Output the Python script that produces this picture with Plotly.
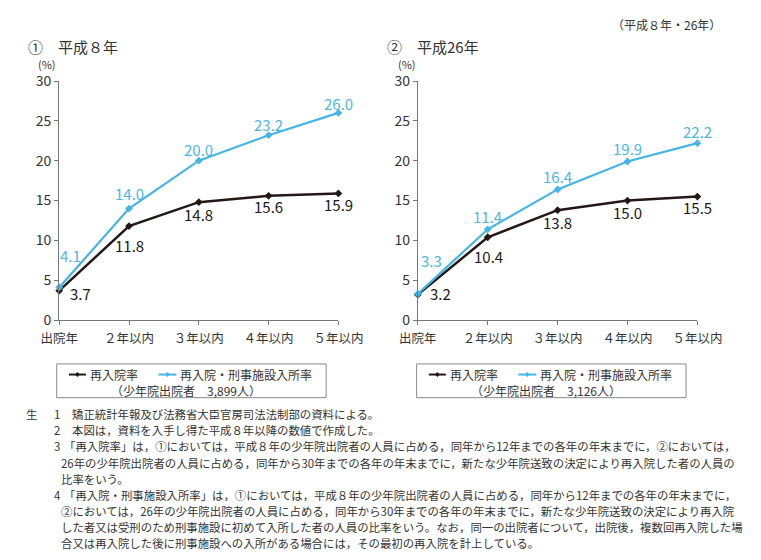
import plotly.graph_objects as go

# ---------------- data ----------------
categories = ["出院年", "２年以内", "３年以内", "４年以内", "５年以内"]
h8_reentry = [3.7, 11.8, 14.8, 15.6, 15.9]
h8_reentry_prison = [4.1, 14.0, 20.0, 23.2, 26.0]
h26_reentry = [3.2, 10.4, 13.8, 15.0, 15.5]
h26_reentry_prison = [3.3, 11.4, 16.4, 19.9, 22.2]
y_ticks = [0, 5, 10, 15, 20, 25, 30]
panel_titles = ["①　平成８年", "②　平成26年"]
legend_names = ["再入院率", "再入院・刑事施設入所率"]
legend_counts = ["（少年院出院者　3,899人）", "（少年院出院者　3,126人）"]
top_note = "（平成８年・26年）"
footnotes = [
    ("生", "1", "矯正統計年報及び法務省大臣官房司法法制部の資料による。"),
    ("", "2", "本図は，資料を入手し得た平成８年以降の数値で作成した。"),
    ("", "3", "「再入院率」は，①においては，平成８年の少年院出院者の人員に占める，同年から12年までの各年の年末までに，②においては，"),
    ("", "", "26年の少年院出院者の人員に占める，同年から30年までの各年の年末までに，新たな少年院送致の決定により再入院した者の人員の"),
    ("", "", "比率をいう。"),
    ("", "4", "「再入院・刑事施設入所率」は，①においては，平成８年の少年院出院者の人員に占める，同年から12年までの各年の年末までに，"),
    ("", "", "②においては，26年の少年院出院者の人員に占める，同年から30年までの各年の年末までに，新たな少年院送致の決定により再入院"),
    ("", "", "した者又は受刑のため刑事施設に初めて入所した者の人員の比率をいう。なお，同一の出院者について，出院後，複数回再入院した場"),
    ("", "", "合又は再入院した後に刑事施設への入所がある場合には，その最初の再入院を計上している。"),
]

# ---------------- styles ----------------
W, H = 761, 560
FONT = "Noto Sans CJK JP"
BLACK = "#231815"
BLUE = "#45b5e6"
BLUE_TXT = "#4cb6e4"
AXIS = "#777777"
TXT = "#333333"

def px(x):
    return x / W

def py(y):
    return 1 - y / H

# label offsets in pixels (dx right, dy down) per series / index
black_off_l = [(21, 3), (0, 19), (0, 12), (0, 11), (0, 11)]
blue_off_l = [(11, -32), (0, -15), (0, -11), (0, -11), (0, -9)]
black_off_r = [(23, -1), (1, 19), (0, 12.5), (0, 12), (0, 11)]
blue_off_r = [(14, -33), (0, -13), (0, -13), (0, -13), (0, -12)]

panels = [
    dict(xa="x", ya="y", black=h8_reentry, blue=h8_reentry_prison,
         boff=black_off_l, uoff=blue_off_l),
    dict(xa="x2", ya="y2", black=h26_reentry, blue=h26_reentry_prison,
         boff=black_off_r, uoff=blue_off_r),
]

fig = go.Figure()
annotations = []
shapes = []

y_top_px, y_bot_px = 72.6, 320.6

for p in panels:
    for vals, color, width in ((p["black"], BLACK, 2.5), (p["blue"], BLUE, 2.2)):
        fig.add_trace(go.Scatter(
            x=categories, y=vals, mode="lines+markers",
            line=dict(color=color, width=width),
            marker=dict(symbol="diamond", size=6, color=color),
            cliponaxis=False, showlegend=False, hoverinfo="skip",
            xaxis=p["xa"], yaxis=p["ya"]))
    for vals, offs, color in ((p["black"], p["boff"], BLACK), (p["blue"], p["uoff"], BLUE_TXT)):
        for i, v in enumerate(vals):
            dx, dy = offs[i]
            annotations.append(dict(
                x=i, y=v, xref=p["xa"], yref=p["ya"], text=f"{v:.1f}",
                showarrow=False, xshift=dx, yshift=-dy, borderpad=0,
                xanchor="center", yanchor="middle",
                font=dict(family=FONT, size=15, color=color)))

axis_common = dict(showline=True, linecolor=AXIS, linewidth=1.2,
                   ticks="outside", ticklen=4, tickwidth=1, tickcolor=AXIS,
                   showgrid=False, zeroline=False,
                   tickfont=dict(family=FONT, size=14, color=TXT))
xtickfont = dict(family=FONT, size=12.5, color=TXT)

fig.update_layout(
    width=W, height=H, autosize=False,
    margin=dict(l=0, r=0, t=0, b=0),
    paper_bgcolor="white", plot_bgcolor="white",
    font=dict(family=FONT, color=TXT),
    xaxis=dict(domain=[px(42.7), px(339.0)], anchor="y", type="category",
               range=[0, len(categories) - 1], ticklabelstandoff=3,
               **{**axis_common, "tickfont": xtickfont}),
    yaxis=dict(domain=[py(y_bot_px), py(y_top_px)], anchor="x",
               range=[0, 30], tickvals=y_ticks, **axis_common),
    xaxis2=dict(domain=[px(423.3), px(720.0)], anchor="y2", type="category",
                range=[0, len(categories) - 1], ticklabelstandoff=3,
                **{**axis_common, "tickfont": xtickfont}),
    yaxis2=dict(domain=[py(y_bot_px), py(y_top_px)], anchor="x2",
                range=[0, 30], tickvals=y_ticks, **axis_common),
)

# titles
title_x = [8, 389]
pct_x = [30, 412]
for k in range(2):
    annotations.append(dict(x=px(title_x[k]), y=py(37), xref="paper", yref="paper",
                            text=panel_titles[k], showarrow=False, borderpad=0,
                            xanchor="left", yanchor="middle",
                            font=dict(family=FONT, size=15, color=TXT)))
    annotations.append(dict(x=px(pct_x[k]), y=py(54.5), xref="paper", yref="paper",
                            text="(%)", showarrow=False, borderpad=0,
                            xanchor="center", yanchor="middle",
                            font=dict(family=FONT, size=11, color=TXT)))

annotations.append(dict(x=px(746), y=py(14), xref="paper", yref="paper",
                        text=top_note, showarrow=False, xanchor="right", yanchor="middle",
                        borderpad=0, font=dict(family=FONT, size=12, color=TXT)))

# legend boxes
box_x = [40, 422]
box_w = 286
box_top, box_bot = 366, 401
row1, row2 = 377, 393.5
for k in range(2):
    bx = box_x[k]
    shapes.append(dict(type="rect", xref="paper", yref="paper",
                       x0=px(bx), x1=px(bx + box_w), y0=py(box_bot), y1=py(box_top),
                       line=dict(color="#8a8a8a", width=1), fillcolor="white"))
    for (lx0, lx1, tx), color, name in (((bx + 13, bx + 31, bx + 34), BLACK, legend_names[0]),
                                        ((bx + 108, bx + 127, bx + 130), BLUE, legend_names[1])):
        shapes.append(dict(type="line", xref="paper", yref="paper",
                           x0=px(lx0), x1=px(lx1), y0=py(row1), y1=py(row1),
                           line=dict(color=color, width=2)))
        cx = (lx0 + lx1) / 2
        d = 2.6
        shapes.append(dict(type="path", xref="paper", yref="paper",
                           path=f"M {px(cx - d)},{py(row1)} L {px(cx)},{py(row1 - d)} "
                                f"L {px(cx + d)},{py(row1)} L {px(cx)},{py(row1 + d)} Z",
                           fillcolor=color, line=dict(color=color, width=0)))
        annotations.append(dict(x=px(tx), y=py(row1), xref="paper", yref="paper",
                                text=name, showarrow=False, xanchor="left", yanchor="middle",
                                borderpad=0, font=dict(family=FONT, size=12, color=TXT)))
    annotations.append(dict(x=px(bx + 137), y=py(row2), xref="paper", yref="paper",
                            text=legend_counts[k], showarrow=False,
                            xanchor="center", yanchor="middle", borderpad=0,
                            font=dict(family=FONT, size=12, color=TXT)))

# footnotes
line_y0, line_dy = 418, 16.75
FN = 11.4
for j, (mark, num, txt) in enumerate(footnotes):
    yy = py(line_y0 + j * line_dy)
    if mark:
        annotations.append(dict(x=px(6), y=yy, xref="paper", yref="paper", text=mark,
                                showarrow=False, xanchor="left", yanchor="middle",
                                borderpad=0, font=dict(family=FONT, size=FN, color=TXT)))
    if num:
        annotations.append(dict(x=px(36), y=yy, xref="paper", yref="paper", text=num,
                                showarrow=False, xanchor="left", yanchor="middle",
                                borderpad=0, font=dict(family=FONT, size=FN, color=TXT)))
    tx = 55 if (num and not txt.startswith("「")) else (47 if num else 44)
    annotations.append(dict(x=px(tx), y=yy, xref="paper", yref="paper", text=txt,
                            showarrow=False, xanchor="left", yanchor="middle",
                            borderpad=0, font=dict(family=FONT, size=FN, color=TXT)))

fig.update_layout(annotations=annotations, shapes=shapes)
fig.write_html("out.html")
